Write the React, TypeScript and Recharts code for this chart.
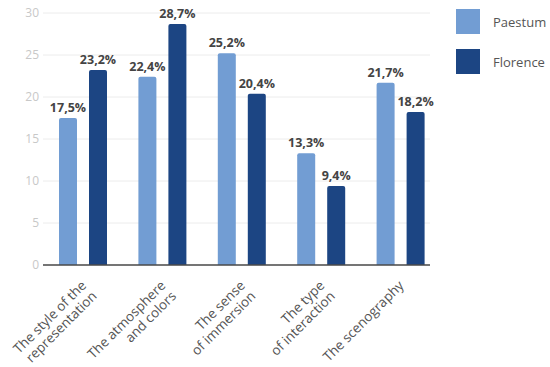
import React from "react";
import { BarChart, Bar, XAxis, YAxis, CartesianGrid, LabelList, Legend, ReferenceLine } from "recharts";

const categories = [
  "The style of the\nrepresentation",
  "The atmosphere\nand colors",
  "The sense\nof immersion",
  "The type\nof interaction",
  "The scenography",
];
const paestum = [17.5, 22.4, 25.2, 13.3, 21.7];
const florence = [23.2, 28.7, 20.4, 9.4, 18.2];
const yTicks = [0, 5, 10, 15, 20, 25, 30];
const seriesNames = ["Paestum", "Florence"];
const colors = ["#729dd3", "#1c4583"];

const data = categories.map((c, i) => ({ name: c, paestum: paestum[i], florence: florence[i] }));

const FONT = "'Open Sans', sans-serif";

const fmt = (v: any) => String(v).replace(".", ",") + "%";

const XTick = (props: any) => {
  const { x, y, payload } = props;
  const lines = String(payload.value).split("\n");
  return (
    <g transform={`translate(${x + 1},${y + 10}) rotate(-45)`}>
      {lines.map((l, i) => (
        <text key={i} x={0} y={i * 15} dy="0.35em" textAnchor="end" fontSize={13.5} fill="#555" fontFamily={FONT}>
          {l}
        </text>
      ))}
    </g>
  );
};

const LegendContent = () => (
  <div style={{ fontFamily: FONT }}>
    {seriesNames.map((n, i) => (
      <div key={n} style={{ display: "flex", alignItems: "center", height: 25, marginBottom: 15 }}>
        <div style={{ width: 24, height: 25, background: colors[i] }} />
        <span style={{ marginLeft: 13, fontSize: 13, color: "#555" }}>{n}</span>
      </div>
    ))}
  </div>
);

export default function App() {
  return (
    <div style={{ position: "absolute", left: 0, top: 0, width: 550, height: 367, background: "#fff" }}>
      <BarChart
        width={550}
        height={367}
        data={data}
        margin={{ top: 13, right: 110, bottom: 0, left: 0 }}
        barGap={12}
        barSize={18}
      >
        <CartesianGrid
          vertical={false}
          horizontal={(p: any) => (
            <line key={p.key} x1={p.x1} y1={p.y1} x2={p.x2 - 10} y2={p.y2} stroke="#ececec" strokeWidth={1} />
          )}
        />
        <XAxis
          dataKey="name"
          axisLine={false}
          tickLine={false}
          interval={0}
          height={102}
          tick={<XTick />}
        />
        <YAxis
          width={43}
          domain={[0, 30]}
          ticks={yTicks}
          axisLine={false}
          tickLine={false}
          tickSize={0}
          tickMargin={4}
          tick={{ fontSize: 12, fill: "#c8c8c8", fontFamily: FONT }}
        />
        <ReferenceLine
          y={0}
          shape={(p: any) => (
            <line x1={p.x1} y1={p.y1} x2={p.x2 - 10} y2={p.y2} stroke="#4a4a4a" strokeWidth={1.5} />
          )}
        />
        <Legend
          layout="vertical"
          align="center"
          verticalAlign="middle"
          content={<LegendContent />}
          wrapperStyle={{ position: "absolute", left: 456, top: 9, width: 94, height: 80 }}
        />
        <Bar dataKey="paestum" name="Paestum" fill={colors[0]} radius={[2, 2, 0, 0]} isAnimationActive={false}>
          <LabelList dataKey="paestum" position="top" offset={6} formatter={fmt} fill="#444" fontSize={12.5} fontWeight="bold" fontFamily={FONT} />
        </Bar>
        <Bar dataKey="florence" name="Florence" fill={colors[1]} radius={[2, 2, 0, 0]} isAnimationActive={false}>
          <LabelList dataKey="florence" position="top" offset={6} formatter={fmt} fill="#444" fontSize={12.5} fontWeight="bold" fontFamily={FONT} />
        </Bar>
      </BarChart>
    </div>
  );
}
